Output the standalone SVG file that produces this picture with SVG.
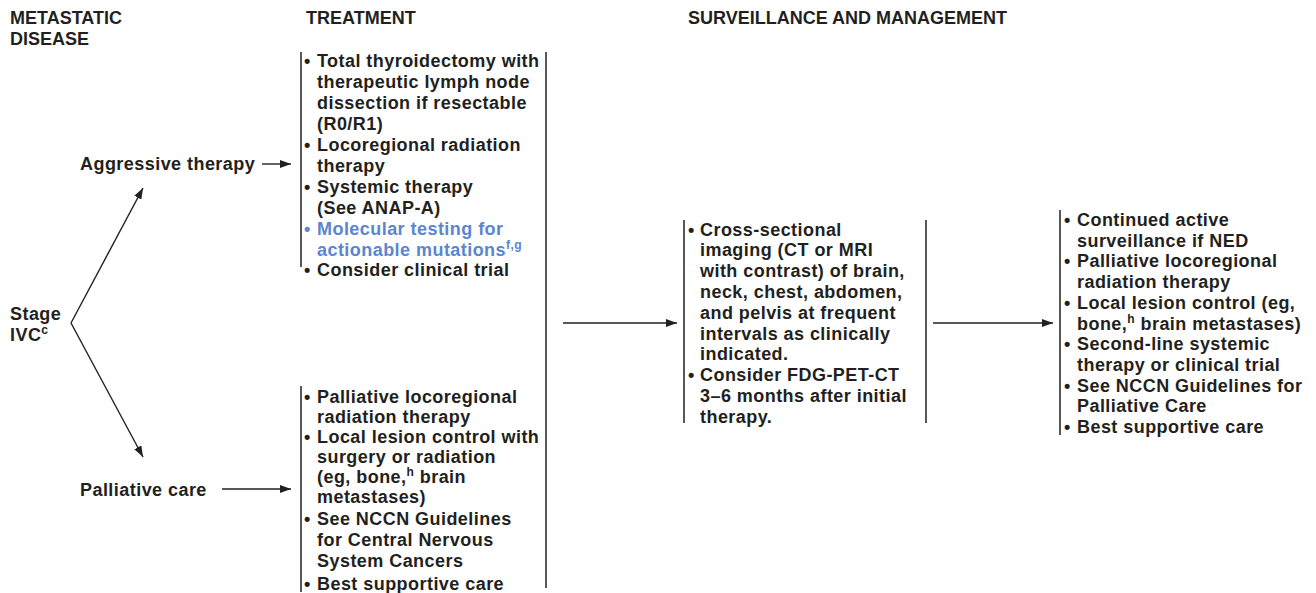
<svg xmlns="http://www.w3.org/2000/svg" width="1316" height="593" viewBox="0 0 1316 593">
<style>
text{font-family:"Liberation Sans",Arial,sans-serif;font-weight:bold;fill:#231f20;font-size:18px}
.b{letter-spacing:0.45px}
.blue{fill:#5b86cf}
.sup{font-size:12px}
.ln{stroke:#231f20;stroke-width:1.4;fill:none}
.br{stroke:#231f20;stroke-width:1.5;fill:none}
</style>
<defs>
<marker id="ah" markerUnits="userSpaceOnUse" markerWidth="11" markerHeight="8" refX="11" refY="4" orient="auto">
<path d="M0,0 L11,4 L0,8 z" fill="#231f20"/>
</marker>
</defs>
<rect width="1316" height="593" fill="#fff"/>
<g id="headers">
<text x="10" y="24">METASTATIC</text>
<text x="10" y="45">DISEASE</text>
<text x="306" y="24">TREATMENT</text>
<text x="688" y="24">SURVEILLANCE AND MANAGEMENT</text>
</g>
<g id="stage">
<text class="b" x="10" y="320">Stage</text>
<text class="b" x="10" y="341">IVC<tspan class="sup" dy="-7">c</tspan></text>
</g>
<g id="aggressive">
<text class="b" x="80" y="170">Aggressive therapy</text>
</g>
<g id="palliative">
<text class="b" x="80" y="496">Palliative care</text>
</g>
<g id="treatment-aggressive" class="b">
<line class="br" x1="301" y1="52" x2="301" y2="267"/>
<text x="304" y="67">•</text><text x="317" y="67">Total thyroidectomy with</text>
<text x="317" y="88">therapeutic lymph node</text>
<text x="317" y="109">dissection if resectable</text>
<text x="317" y="130">(R0/R1)</text>
<text x="304" y="151">•</text><text x="317" y="151">Locoregional radiation</text>
<text x="317" y="172">therapy</text>
<text x="304" y="193">•</text><text x="317" y="193">Systemic therapy</text>
<text x="317" y="214">(See ANAP-A)</text>
<text class="blue" x="304" y="235">•</text><text class="blue" x="317" y="235">Molecular testing for</text>
<text class="blue" x="317" y="256">actionable mutations<tspan class="sup" dy="-7">f,g</tspan></text>
<text x="304" y="276">•</text><text x="317" y="276">Consider clinical trial</text>
</g>
<g id="treatment-palliative" class="b">
<line class="br" x1="301" y1="386" x2="301" y2="592"/>
<text x="304" y="403">•</text><text x="317" y="403">Palliative locoregional</text>
<text x="317" y="423">radiation therapy</text>
<text x="304" y="443">•</text><text x="317" y="443">Local lesion control with</text>
<text x="317" y="463">surgery or radiation</text>
<text x="317" y="483">(eg, bone,<tspan class="sup" dy="-7">h</tspan><tspan dy="7"> brain</tspan></text>
<text x="317" y="503">metastases)</text>
<text x="304" y="525">•</text><text x="317" y="525">See NCCN Guidelines</text>
<text x="317" y="546">for Central Nervous</text>
<text x="317" y="567">System Cancers</text>
<text x="304" y="590">•</text><text x="317" y="590">Best supportive care</text>
</g>
<g id="treatment-bracket">
<line class="br" x1="546" y1="52" x2="546" y2="588"/>
</g>
<g id="surveillance" class="b">
<line class="br" x1="684" y1="220" x2="684" y2="423"/>
<line class="br" x1="926" y1="220" x2="926" y2="423"/>
<text x="688" y="235.5">•</text><text x="700" y="235.5">Cross-sectional</text>
<text x="700" y="256.3">imaging (CT or MRI</text>
<text x="700" y="277.1">with contrast) of brain,</text>
<text x="700" y="297.9">neck, chest, abdomen,</text>
<text x="700" y="318.7">and pelvis at frequent</text>
<text x="700" y="339.5">intervals as clinically</text>
<text x="700" y="360.3">indicated.</text>
<text x="688" y="381.1">•</text><text x="700" y="381.1">Consider FDG-PET-CT</text>
<text x="700" y="401.9">3–6 months after initial</text>
<text x="700" y="422.7">therapy.</text>
</g>
<g id="management" class="b">
<line class="br" x1="1060" y1="210" x2="1060" y2="435"/>
<text x="1064" y="226">•</text><text x="1077" y="226">Continued active</text>
<text x="1077" y="246.7">surveillance if NED</text>
<text x="1064" y="267.4">•</text><text x="1077" y="267.4">Palliative locoregional</text>
<text x="1077" y="288.1">radiation therapy</text>
<text x="1064" y="308.8">•</text><text x="1077" y="308.8">Local lesion control (eg,</text>
<text x="1077" y="329.5">bone,<tspan class="sup" dy="-7">h</tspan><tspan dy="7"> brain metastases)</tspan></text>
<text x="1064" y="350.2">•</text><text x="1077" y="350.2">Second-line systemic</text>
<text x="1077" y="370.9">therapy or clinical trial</text>
<text x="1064" y="391.6">•</text><text x="1077" y="391.6">See NCCN Guidelines for</text>
<text x="1077" y="412.3">Palliative Care</text>
<text x="1064" y="433">•</text><text x="1077" y="433">Best supportive care</text>
</g>
<g id="connectors">
<line class="ln" x1="71" y1="323" x2="143" y2="188" marker-end="url(#ah)"/>
<line class="ln" x1="71" y1="323" x2="143" y2="457" marker-end="url(#ah)"/>
<line class="ln" x1="262" y1="164" x2="291" y2="164" marker-end="url(#ah)"/>
<line class="ln" x1="222" y1="489" x2="291" y2="489" marker-end="url(#ah)"/>
<line class="ln" x1="563" y1="323" x2="677" y2="323" marker-end="url(#ah)"/>
<line class="ln" x1="933" y1="323" x2="1053" y2="323" marker-end="url(#ah)"/>
</g>
</svg>
